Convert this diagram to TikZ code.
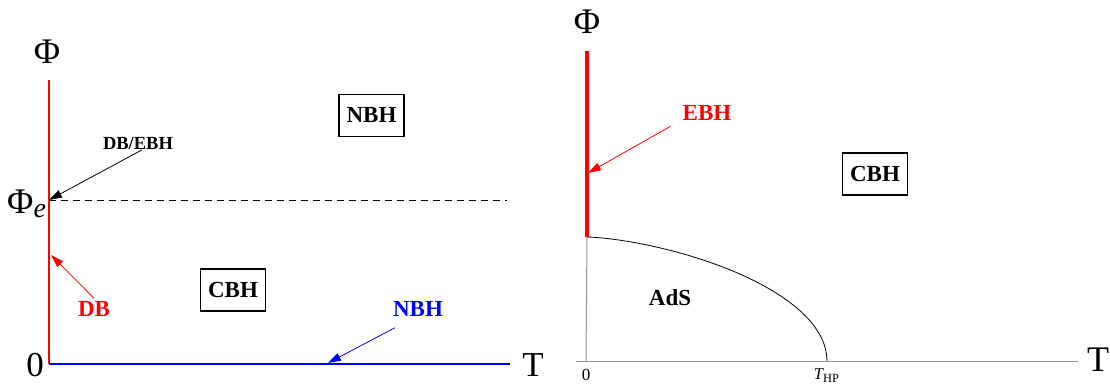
\documentclass[tikz,border=0pt]{standalone}
\usepackage{fontspec}
\setmainfont{Liberation Serif}
\usepackage{tikz}
\usetikzlibrary{arrows.meta,calc,positioning}
\definecolor{PDRed}{HTML}{FF0000}
\definecolor{PDBlue}{HTML}{0000FF}
\definecolor{PDGray}{HTML}{969696}
\tikzset{
  pdPhase/.style={
    rectangle, draw=black, line width=1.2pt, fill=white,
    minimum width=65pt, minimum height=42pt, inner sep=0pt,
    font=\fontsize{23}{23}\selectfont\bfseries
  },
  pdLabel/.style={
    inner sep=0pt, text=#1, font=\fontsize{23}{23}\selectfont\bfseries
  },
  pdLabel/.default=black,
  pdAxisText/.style={inner sep=0pt, font=\fontsize{#1}{#1}\selectfont},
  pdArrow/.style={-{Triangle[length=13pt,width=8pt]}, draw=#1, line width=0.8pt},
  pdArrow/.default=black,
  pdAxis/.style={draw=PDGray, line width=1pt}
}
\begin{document}
\begin{tikzpicture}[x=1pt, y=-1pt]
  \useasboundingbox (0,0) rectangle (1110,385);

  % left panel
  \coordinate (lO) at (49,364);
  \coordinate (lTop) at (49,80);
  \coordinate (lEnd) at (510,364);
  \coordinate (lPe) at (49,200);
  \coordinate (lPeEnd) at (507,200);
  \coordinate (lDB) at (51,255);
  \coordinate (lNBH) at (328,363);

  \draw[black, line width=0.8pt, dash pattern=on 7pt off 5pt] (lPe) -- (lPeEnd);
  \draw[PDRed, line width=2pt] (lO) -- (lTop);
  \draw[PDBlue, line width=2pt] (lO) -- (lEnd);

  \node[pdAxisText=36] (lPhi) at (47,52) {Φ};
  \node[pdAxisText=36, anchor=base west] (lPhiE) at (7,213)
    {Φ\raisebox{-4pt}{\fontsize{28}{28}\selectfont\itshape e}};
  \node[pdAxisText=35] (lZero) at (35,365) {0};
  \node[pdAxisText=35] (lT) at (533,365) {T};

  \node[pdPhase] (lNbhBox) at (371.5,115.5) {NBH};
  \node[pdPhase] (lCbhBox) at (233,290) {CBH};

  \node[inner sep=0pt, font=\fontsize{18.5}{18.5}\selectfont\bfseries] (lDbEbh) at (138,143.5) {DB/EBH};
  \node[pdLabel=PDRed] (lDbLbl) at (94,309) {DB};
  \node[pdLabel=PDBlue] (lNbhLbl) at (418,309) {NBH};

  \draw[pdArrow] ([xshift=4pt]lDbEbh.south) -- (lPe);
  \draw[pdArrow=PDRed] ([yshift=3pt]lDbLbl.north) -- (lDB);
  \draw[pdArrow=PDBlue] ([shift={(2pt,-11pt)}]lNbhLbl.south west) -- (lNBH);

  % right panel
  \coordinate (rO) at (586,361);
  \coordinate (rTop) at (587,51);
  \coordinate (rCrit) at (587,237);
  \coordinate (rHP) at (827,361);
  \coordinate (rEBH) at (588,173);

  \draw[pdAxis] (576,361) -- (1078,361);
  \draw[pdAxis] (rO) -- (rCrit);
  \draw[black, line width=0.8pt] (rCrit) -- plot[domain=0.002:1, samples=200]
    ({587+240*\x}, {361-124*sqrt(max(0,1-\x*sqrt(\x)))}) -- (rHP);
  \draw[PDRed, line width=3.4pt] (rCrit) -- (rTop);

  \node[pdAxisText=36] (rPhi) at (587,22) {Φ};
  \node[pdAxisText=36] (rT) at (1098,360) {T};
  \node[pdAxisText=17] (rZero) at (586,375) {0};
  \node[inner sep=0pt, font=\fontsize{16.5}{16.5}\selectfont] (rThp) at (826.5,376)
    {\itshape T\upshape\raisebox{-3pt}{\fontsize{12.5}{12.5}\selectfont HP}};

  \node[pdPhase] (rCbhBox) at (875,174) {CBH};
  \node[pdLabel] (rAds) at (670,298) {AdS};
  \node[pdLabel=PDRed] (rEbhLbl) at (707,113.5) {EBH};

  \draw[pdArrow=PDRed] ([shift={(-12pt,-5pt)}]rEbhLbl.south west) -- (rEBH);
\end{tikzpicture}
\end{document}
